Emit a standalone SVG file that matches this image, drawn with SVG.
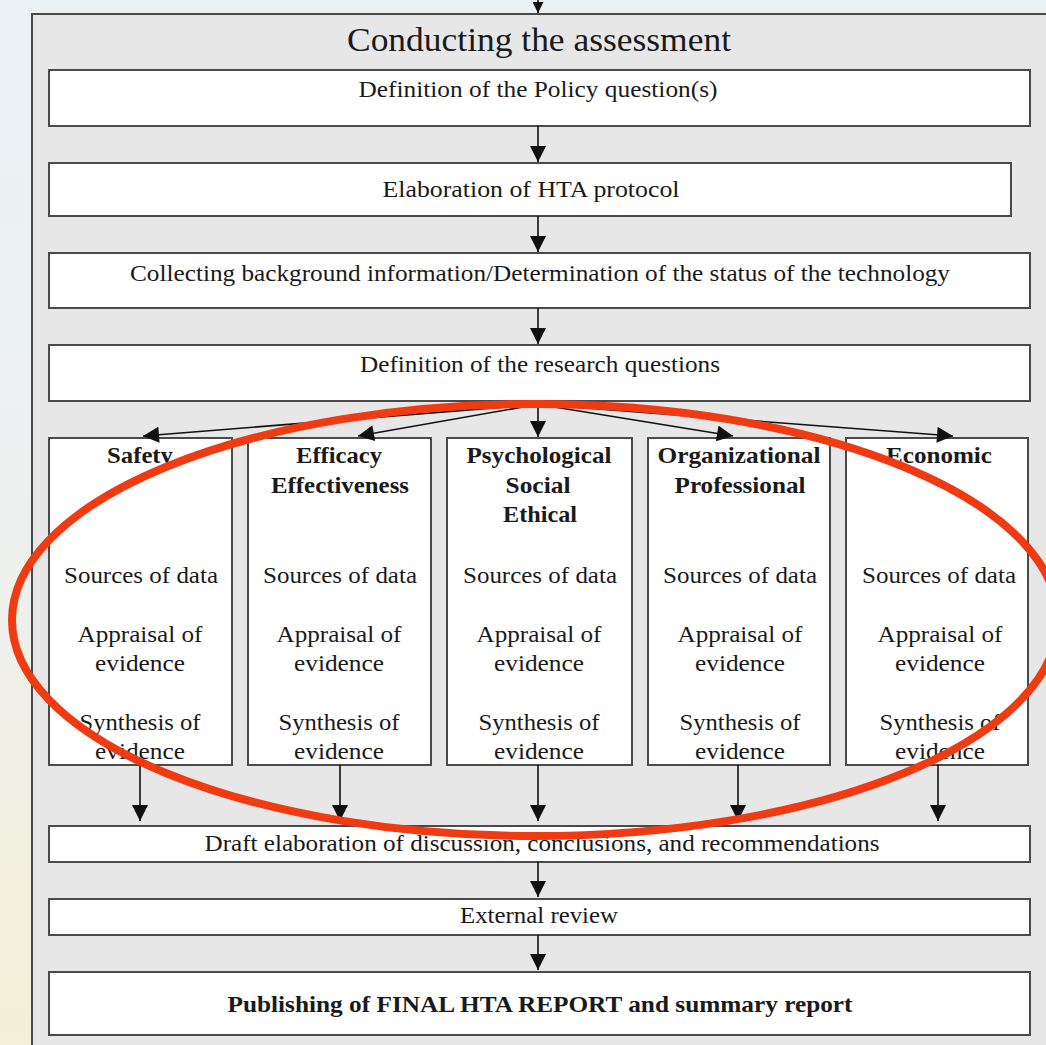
<svg xmlns="http://www.w3.org/2000/svg" width="1046" height="1045" viewBox="0 0 1046 1045">
<style>
.box{fill:#ffffff;stroke:#4a4a4a;stroke-width:2}
.t{font-family:"Liberation Serif","Times New Roman",serif;font-size:23px;fill:#1a1a1a;text-anchor:middle}
.b{font-weight:bold}
.title{font-size:33px}
.c{stroke:#111;stroke-width:1.6;fill:none}
</style>
<defs>
<linearGradient id="bg" x1="0" y1="0" x2="0" y2="1">
<stop offset="0" stop-color="#eaf2f6"/>
<stop offset="0.55" stop-color="#eef0ee"/>
<stop offset="1" stop-color="#f4efd6"/>
</linearGradient>
<marker id="ah" viewBox="0 0 10 10" refX="10" refY="5" markerWidth="11" markerHeight="11" markerUnits="userSpaceOnUse" orient="auto">
<path d="M0,0 L10,5 L0,10 z" fill="#111"/>
</marker>
<marker id="ah2" viewBox="0 0 10 10" refX="10" refY="5" markerWidth="19" markerHeight="16" markerUnits="userSpaceOnUse" orient="auto">
<path d="M0,0 L10,5 L0,10 z" fill="#111"/>
</marker>
</defs>
<rect x="0" y="0" width="1046" height="1045" fill="url(#bg)"/>
<rect id="panel" x="32" y="14" width="1030" height="1045" fill="#e7e7e7" stroke="#4a4a4a" stroke-width="2"/>
<text class="t title" x="539" y="51" textLength="384" lengthAdjust="spacingAndGlyphs">Conducting the assessment</text>

<g id="n1"><rect class="box" x="49" y="70" width="981" height="56"/><text class="t" x="538" y="97" textLength="359" lengthAdjust="spacingAndGlyphs">Definition of the Policy question(s)</text></g>
<g id="n2"><rect class="box" x="49" y="163" width="962" height="53"/><text class="t" x="531" y="197" textLength="297" lengthAdjust="spacingAndGlyphs">Elaboration of HTA protocol</text></g>
<g id="n3"><rect class="box" x="49" y="253" width="981" height="55"/><text class="t" x="540" y="281" textLength="820" lengthAdjust="spacingAndGlyphs">Collecting background information/Determination of the status of the technology</text></g>
<g id="n4"><rect class="box" x="49" y="345" width="981" height="56"/><text class="t" x="540" y="372" textLength="360" lengthAdjust="spacingAndGlyphs">Definition of the research questions</text></g>

<g id="safety"><rect class="box" x="49" y="438" width="183" height="327"/>
<text class="t b" x="140" y="463" textLength="66" lengthAdjust="spacingAndGlyphs">Safety</text>
<text class="t" x="141" y="583" textLength="154" lengthAdjust="spacingAndGlyphs">Sources of data</text>
<text class="t" x="140" y="642" textLength="125" lengthAdjust="spacingAndGlyphs">Appraisal of</text>
<text class="t" x="140" y="671" textLength="90" lengthAdjust="spacingAndGlyphs">evidence</text>
<text class="t" x="140" y="730" textLength="121" lengthAdjust="spacingAndGlyphs">Synthesis of</text>
<text class="t" x="140" y="759" textLength="90" lengthAdjust="spacingAndGlyphs">evidence</text></g>

<g id="efficacy"><rect class="box" x="248" y="438" width="183" height="327"/>
<text class="t b" x="339" y="463" textLength="86" lengthAdjust="spacingAndGlyphs">Efficacy</text>
<text class="t b" x="340" y="493" textLength="138" lengthAdjust="spacingAndGlyphs">Effectiveness</text>
<text class="t" x="340" y="583" textLength="154" lengthAdjust="spacingAndGlyphs">Sources of data</text>
<text class="t" x="339" y="642" textLength="125" lengthAdjust="spacingAndGlyphs">Appraisal of</text>
<text class="t" x="339" y="671" textLength="90" lengthAdjust="spacingAndGlyphs">evidence</text>
<text class="t" x="339" y="730" textLength="121" lengthAdjust="spacingAndGlyphs">Synthesis of</text>
<text class="t" x="339" y="759" textLength="90" lengthAdjust="spacingAndGlyphs">evidence</text></g>

<g id="psych"><rect class="box" x="447" y="438" width="185" height="327"/>
<text class="t b" x="539" y="463" textLength="145" lengthAdjust="spacingAndGlyphs">Psychological</text>
<text class="t b" x="538" y="493" textLength="65" lengthAdjust="spacingAndGlyphs">Social</text>
<text class="t b" x="540" y="522" textLength="74" lengthAdjust="spacingAndGlyphs">Ethical</text>
<text class="t" x="540" y="583" textLength="154" lengthAdjust="spacingAndGlyphs">Sources of data</text>
<text class="t" x="539" y="642" textLength="125" lengthAdjust="spacingAndGlyphs">Appraisal of</text>
<text class="t" x="539" y="671" textLength="90" lengthAdjust="spacingAndGlyphs">evidence</text>
<text class="t" x="539" y="730" textLength="121" lengthAdjust="spacingAndGlyphs">Synthesis of</text>
<text class="t" x="539" y="759" textLength="90" lengthAdjust="spacingAndGlyphs">evidence</text></g>

<g id="org"><rect class="box" x="648" y="438" width="182" height="327"/>
<text class="t b" x="739" y="463" textLength="163" lengthAdjust="spacingAndGlyphs">Organizational</text>
<text class="t b" x="740" y="493" textLength="131" lengthAdjust="spacingAndGlyphs">Professional</text>
<text class="t" x="740" y="583" textLength="154" lengthAdjust="spacingAndGlyphs">Sources of data</text>
<text class="t" x="740" y="642" textLength="125" lengthAdjust="spacingAndGlyphs">Appraisal of</text>
<text class="t" x="740" y="671" textLength="90" lengthAdjust="spacingAndGlyphs">evidence</text>
<text class="t" x="740" y="730" textLength="121" lengthAdjust="spacingAndGlyphs">Synthesis of</text>
<text class="t" x="740" y="759" textLength="90" lengthAdjust="spacingAndGlyphs">evidence</text></g>

<g id="economic"><rect class="box" x="846" y="438" width="182" height="327"/>
<text class="t b" x="939" y="463" textLength="106" lengthAdjust="spacingAndGlyphs">Economic</text>
<text class="t" x="939" y="583" textLength="154" lengthAdjust="spacingAndGlyphs">Sources of data</text>
<text class="t" x="940" y="642" textLength="125" lengthAdjust="spacingAndGlyphs">Appraisal of</text>
<text class="t" x="940" y="671" textLength="90" lengthAdjust="spacingAndGlyphs">evidence</text>
<text class="t" x="940" y="730" textLength="121" lengthAdjust="spacingAndGlyphs">Synthesis of</text>
<text class="t" x="940" y="759" textLength="90" lengthAdjust="spacingAndGlyphs">evidence</text></g>

<g id="n5"><rect class="box" x="49" y="826" width="981" height="36"/><text class="t" x="542" y="851" textLength="675" lengthAdjust="spacingAndGlyphs">Draft elaboration of discussion, conclusions, and recommendations</text></g>
<g id="n6"><rect class="box" x="49" y="899" width="981" height="36"/><text class="t" x="539" y="923" textLength="158" lengthAdjust="spacingAndGlyphs">External review</text></g>
<g id="n7"><rect class="box" x="49" y="972" width="981" height="63"/><text class="t b" x="540" y="1012" textLength="625" lengthAdjust="spacingAndGlyphs">Publishing of FINAL HTA REPORT and summary report</text></g>

<g id="connectors">
<line class="c" x1="538" y1="0" x2="538" y2="13" marker-end="url(#ah)"/>
<line class="c" x1="538" y1="126" x2="538" y2="162" marker-end="url(#ah2)"/>
<line class="c" x1="538" y1="216" x2="538" y2="252" marker-end="url(#ah2)"/>
<line class="c" x1="538" y1="308" x2="538" y2="344" marker-end="url(#ah2)"/>
<line class="c" x1="538" y1="401" x2="538" y2="437" marker-end="url(#ah2)"/>
<line class="c" x1="530" y1="405" x2="143" y2="436" marker-end="url(#ah2)"/>
<line class="c" x1="534" y1="405" x2="358" y2="436" marker-end="url(#ah2)"/>
<line class="c" x1="542" y1="405" x2="733" y2="436" marker-end="url(#ah2)"/>
<line class="c" x1="546" y1="405" x2="953" y2="436" marker-end="url(#ah2)"/>
<line class="c" x1="140" y1="765" x2="140" y2="821" marker-end="url(#ah2)"/>
<line class="c" x1="340" y1="765" x2="340" y2="821" marker-end="url(#ah2)"/>
<line class="c" x1="538" y1="765" x2="538" y2="821" marker-end="url(#ah2)"/>
<line class="c" x1="738" y1="765" x2="738" y2="821" marker-end="url(#ah2)"/>
<line class="c" x1="938" y1="765" x2="938" y2="821" marker-end="url(#ah2)"/>
<line class="c" x1="538" y1="862" x2="538" y2="897" marker-end="url(#ah2)"/>
<line class="c" x1="538" y1="935" x2="538" y2="970" marker-end="url(#ah2)"/>
</g>

<ellipse id="highlight" cx="535" cy="620" rx="523" ry="216" fill="none" stroke="#f03a12" stroke-width="8"/>
</svg>
